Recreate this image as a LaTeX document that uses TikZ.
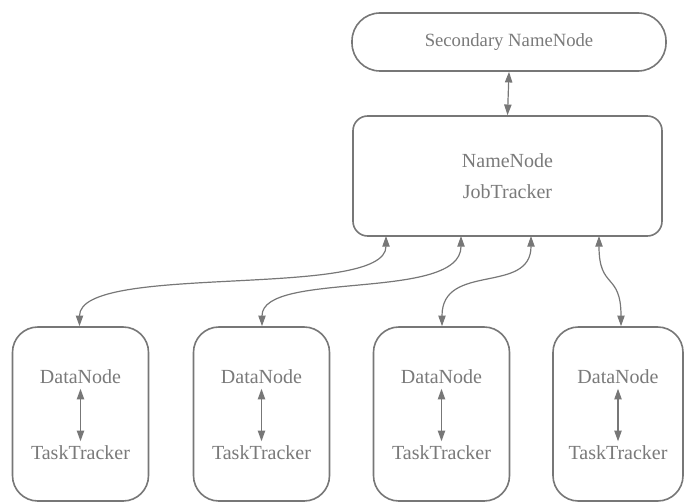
\documentclass[tikz,border=0pt]{standalone}
\usepackage{fontspec}
\setmainfont{Liberation Serif}
\usetikzlibrary{arrows.meta}
\definecolor{linegray}{HTML}{777777}
\definecolor{textgray}{HTML}{7A7A7A}
\tikzset{
  box/.style={draw=linegray, line width=1.2pt, fill=white, text=textgray},
  secbox/.style={box, minimum width=235.5pt, minimum height=43.5pt, rounded corners=21pt,
    font=\fontsize{14}{17}\selectfont},
  nnbox/.style={box, minimum width=231.75pt, minimum height=90pt, rounded corners=11pt,
    align=center, font=\fontsize{15}{23}\selectfont},
  dnbox/.style={box, minimum width=102pt, minimum height=130.5pt, rounded corners=19pt},
  label/.style={text=textgray, font=\fontsize{15}{18}\selectfont},
  conn/.style={draw=linegray, line width=0.9pt, {Triangle[length=8pt,width=5.5pt]}-{Triangle[length=8pt,width=5.5pt]}}
}
\begin{document}
\begin{tikzpicture}[x=0.75pt, y=-0.75pt]
\useasboundingbox (0,0) rectangle (685,503);

\node[secbox] (sec) at (509,42) {Secondary NameNode};
\node[nnbox] (nn) at (507.5,176) {NameNode\\JobTracker};

\node[dnbox] (b1) at (80.5,414) {};
\node[dnbox] (b2) at (261.5,414) {};
\node[dnbox] (b3) at (441.5,414) {};
\node[dnbox, minimum width=97.5pt] (b4) at (618,414) {};

\foreach \i/\x in {1/80.5, 2/261.5, 3/441.5, 4/618}{
  \node[label] (d\i) at (\x,377) {DataNode};
  \node[label] (t\i) at (\x,453) {TaskTracker};
  \draw[conn] (d\i.south) -- (t\i.north);
}

\draw[conn] (sec.south) -- (nn.north);

\coordinate (p1) at (386,236);
\coordinate (p2) at (461,236);
\coordinate (p3) at (531,236);
\coordinate (p4) at (599,236);

\draw[conn] (p1) .. controls (386,300) and (79.5,262) .. (b1.north -| 79.5,0);
\draw[conn] (p2) .. controls (461,302) and (262,270) .. (b2.north -| 262,0);
\draw[conn] (p3) .. controls (531,295) and (442,262) .. (b3.north -| 442,0);
\draw[conn] (p4) .. controls (599,290) and (621,272) .. (b4.north -| 621,0);
\end{tikzpicture}
\end{document}
